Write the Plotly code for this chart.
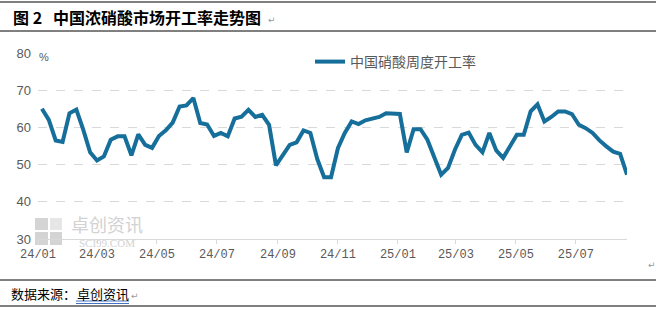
import plotly.graph_objects as go
import pandas as pd

# ---------------- data ----------------
series_name = "中国硝酸周度开工率"
start_date = "2024-01-05"
rate = [65.0, 62.0, 56.5, 56.1, 63.8, 64.8, 59.4, 53.3, 51.1, 52.2,
        56.7, 57.6, 57.6, 52.5, 58.1, 55.3, 54.5, 57.7, 59.2, 61.3,
        65.6, 65.9, 67.9, 61.2, 60.8, 57.7, 58.5, 57.6, 62.4, 62.9,
        64.7, 62.8, 63.4, 60.7, 49.8, 52.7, 55.3, 56.0, 59.2, 58.5,
        51.5, 46.6, 46.6, 54.4, 58.5, 61.6, 60.9, 61.9, 62.3, 62.8,
        63.8, 63.6, 63.6, 53.3, 59.5, 59.5, 56.7, 52.0, 47.3, 49.1,
        54.0, 58.0, 58.6, 55.3, 53.3, 58.5, 53.8, 51.8, 54.9, 58.0,
        58.0, 64.3, 66.2, 61.6, 62.8, 64.3, 64.3, 63.6, 60.7, 59.8,
        58.5, 56.5, 54.9, 53.5, 52.9, 47.3]
dates = pd.date_range(start_date, periods=len(rate), freq="7D")

tick_dates = ["2024-01-01", "2024-03-01", "2024-05-01", "2024-07-01", "2024-09-01",
              "2024-11-01", "2025-01-01", "2025-03-01", "2025-05-01", "2025-07-01"]
tick_labels = ["24/01", "24/03", "24/05", "24/07", "24/09",
               "24/11", "25/01", "25/03", "25/05", "25/07"]
y_ticks = [30, 40, 50, 60, 70, 80]

title_text = "图 2&nbsp;&nbsp; 中国浓硝酸市场开工率走势图"
source_label = "数据来源："
source_name = "卓创资讯"

# ---------------- layout helpers ----------------
W, H = 656, 310
L, R, T, B = 38, 29, 53, 71
PW, PH = W - L - R, H - T - B


def px(x):
    return (x - L) / PW


def py(y):
    return (H - B - y) / PH


LINE_COLOR = "#166e9a"
GRAY = "#595959"
CJK = "Noto Sans CJK SC"

fig = go.Figure()
fig.add_trace(go.Scatter(
    x=dates, y=rate, mode="lines", name=series_name,
    line=dict(color=LINE_COLOR, width=4, shape="linear"),
    hoverinfo="skip",
))

annotations = [
    dict(text="<b>" + title_text + "</b>", x=px(11), y=py(17), xanchor="left", yanchor="middle",
         font=dict(family=CJK, size=16, color="#000000")),
    dict(text="↵", x=px(266), y=py(20), xanchor="left", yanchor="middle",
         font=dict(family="DejaVu Sans", size=9, color="#9a9a9a")),
    dict(text="%", x=px(37), y=py(57), xanchor="left", yanchor="middle",
         font=dict(family="Liberation Sans", size=11, color=GRAY)),
    dict(text="卓创资讯", x=px(107), y=py(224), xanchor="center", yanchor="middle",
         font=dict(family=CJK, size=18, color="#d2d2d2")),
    dict(text="SCI99.COM", x=px(107), y=py(243), xanchor="center", yanchor="middle",
         font=dict(family="Liberation Serif", size=11, color="#d2d2d2")),
    dict(text=source_label, x=px(9), y=py(293), xanchor="left", yanchor="middle",
         font=dict(family=CJK, size=13, color="#000000")),
    dict(text=source_name, x=px(75), y=py(293), xanchor="left", yanchor="middle",
         font=dict(family=CJK, size=13, color="#000000")),
    dict(text="↵", x=px(129), y=py(296), xanchor="left", yanchor="middle",
         font=dict(family="DejaVu Sans", size=9, color="#9a9a9a")),
    dict(text="↵", x=px(646), y=py(265), xanchor="left", yanchor="middle",
         font=dict(family="DejaVu Sans", size=9, color="#9a9a9a")),
]
for a in annotations:
    a.update(xref="paper", yref="paper", showarrow=False)

shapes = []
# horizontal rules of the document table
for yy in [2, 31, 280, 306]:
    shapes.append(dict(type="line", xref="paper", yref="paper", x0=px(0), x1=px(656),
                       y0=py(yy), y1=py(yy), line=dict(color="#000000", width=1)))
# blue double underline under the source name
for yy in [301, 303.5]:
    shapes.append(dict(type="line", xref="paper", yref="paper", x0=px(76), x1=px(129),
                       y0=py(yy), y1=py(yy), line=dict(color="#4472c4", width=1)))
# watermark logo blocks
for (x0, y0, x1, y1, c) in [(35, 218, 48, 230, "#d4d4d4"), (50, 218, 62, 230, "#e6e6e6"),
                            (35, 232, 48, 245, "#d4d4d4"), (50, 232, 62, 245, "#d4d4d4")]:
    shapes.append(dict(type="rect", xref="paper", yref="paper", x0=px(x0), x1=px(x1),
                       y0=py(y0), y1=py(y1), fillcolor=c, line=dict(width=0), layer="below"))

fig.update_layout(
    width=W, height=H,
    margin=dict(l=L, r=R, t=T, b=B, autoexpand=False),
    paper_bgcolor="#ffffff", plot_bgcolor="rgba(0,0,0,0)",
    showlegend=True,
    legend=dict(x=px(310), y=py(46), xanchor="left", yanchor="top",
                bgcolor="#ffffff", borderwidth=0,
                font=dict(family=CJK, size=14, color=GRAY)),
    annotations=annotations,
    shapes=shapes,
    xaxis=dict(type="date", range=["2024-01-01", "2025-08-22"],
               tickvals=tick_dates, ticktext=tick_labels,
               showgrid=False, zeroline=False,
               showline=True, linecolor="#d9d9d9", linewidth=1,
               ticks="outside", ticklen=4, tickcolor="#d9d9d9",
               tickfont=dict(family="Liberation Mono", size=12, color=GRAY)),
    yaxis=dict(range=[30, 80], tickvals=y_ticks,
               showgrid=True, gridcolor="#d9d9d9", griddash="dash", gridwidth=1,
               zeroline=False, showline=False, ticks="",
               ticklabelstandoff=6,
               tickfont=dict(family="Liberation Sans", size=13, color=GRAY)),
)

fig.write_html("out.html")
